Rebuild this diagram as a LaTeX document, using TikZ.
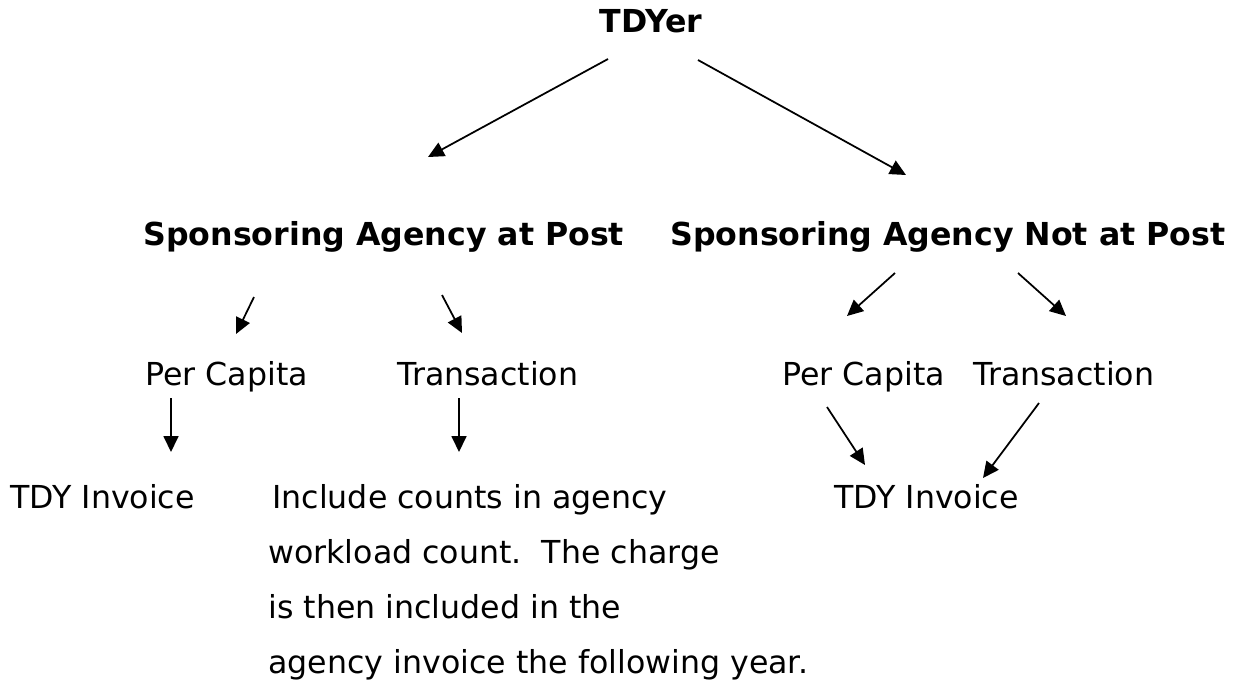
\documentclass[tikz,border=0pt]{standalone}
\usepackage{fontspec}
\setmainfont{DejaVu Sans}
\usetikzlibrary{arrows.meta}

\begin{document}
\begin{tikzpicture}[>={Triangle[length=0.32cm,width=0.3cm]},
    txt/.style={inner sep=0pt, anchor=base west, font=\fontsize{18}{31.3}\selectfont},
    head/.style={inner sep=0pt, anchor=base west, font=\fontsize{18}{22}\selectfont\bfseries},
    arr/.style={->, line width=1pt}]
    \useasboundingbox (0,0) rectangle (25.02,-13.64);

    \node[head, anchor=base] (tdyer) at (13.02,-0.64) {TDYer};
    \node[head] (atpost) at (2.86,-4.9) {Sponsoring Agency at Post};
    \node[head] (notpost) at (13.4,-4.9) {Sponsoring Agency Not at Post};

    \node[txt] (capL) at (2.9,-7.7) {Per Capita};
    \node[txt] (transL) at (7.94,-7.7) {Transaction};
    \node[txt] (capR) at (15.64,-7.7) {Per Capita};
    \node[txt] (transR) at (19.46,-7.7) {Transaction};

    \node[txt] (invL) at (0.2,-10.16) {TDY Invoice};
    \node[txt, anchor=north west, align=left] (count) at (5.36,-9.68)
        {\hspace{0.08cm}Include counts in agency\\workload count.\ \ The charge\\is then included in the\\agency invoice the following year.};
    \node[txt] (invR) at (16.68,-10.16) {TDY Invoice};

    % arrow ends
    \coordinate (a1) at (12.16,-1.18);  \coordinate (b1) at (8.56,-3.14);
    \coordinate (a2) at (13.96,-1.2);   \coordinate (b2) at (18.12,-3.5);
    \coordinate (a3) at (5.08,-5.94);   \coordinate (b3) at (4.72,-6.68);
    \coordinate (a4) at (8.84,-5.9);    \coordinate (b4) at (9.24,-6.66);
    \coordinate (a5) at (17.9,-5.46);   \coordinate (b5) at (16.94,-6.32);
    \coordinate (a6) at (20.36,-5.46);  \coordinate (b6) at (21.32,-6.32);
    \coordinate (a7) at (3.42,-7.96);   \coordinate (b7) at (3.42,-9.04);
    \coordinate (a8) at (9.18,-7.96);   \coordinate (b8) at (9.18,-9.04);
    \coordinate (a9) at (16.54,-8.14);  \coordinate (b9) at (17.3,-9.3);
    \coordinate (a10) at (20.78,-8.06); \coordinate (b10) at (19.66,-9.56);

    \foreach \i in {1,...,10}
        \draw[arr] (a\i) -- (b\i);
\end{tikzpicture}
\end{document}
